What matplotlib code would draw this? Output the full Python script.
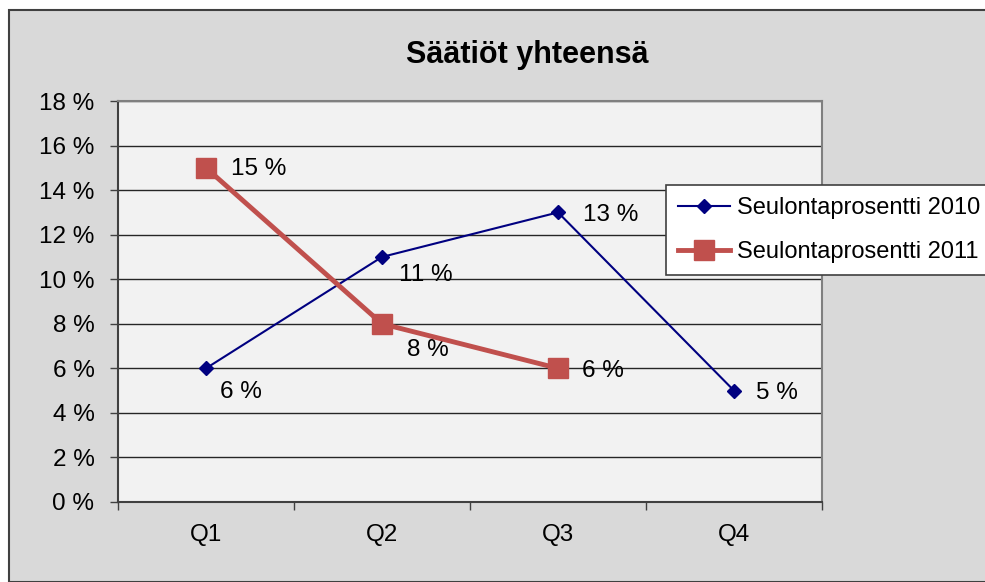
import matplotlib
matplotlib.use("Agg")
import matplotlib.pyplot as plt
from matplotlib.patches import Rectangle
from matplotlib.ticker import FuncFormatter

categories = ["Q1", "Q2", "Q3", "Q4"]
series_2010 = [6, 11, 13, 5]
series_2011 = [15, 8, 6]
label_2010 = "Seulontaprosentti 2010"
label_2011 = "Seulontaprosentti 2011"
title = "Säätiöt yhteensä"

plt.rcParams['font.family'] = ['Liberation Sans', 'DejaVu Sans']

W, H = 985, 582
fig = plt.figure(figsize=(W / 100, H / 100), dpi=100)
fig.patch.set_facecolor("white")

# chart area background with border
bg = Rectangle((9 / W, 0), 1.0, 1 - 10 / H, transform=fig.transFigure,
               facecolor="#d9d9d9", edgecolor="#404040", linewidth=1.5, zorder=-10)
fig.patches.append(bg)

ax = fig.add_axes([118 / W, 1 - 502 / H, (822 - 118) / W, (502 - 101) / H])
ax.set_zorder(1)
ax.set_facecolor("#f2f2f2")

x = list(range(len(categories)))
x11 = list(range(len(series_2011)))

ax.plot(x, series_2010, color="#000080", linewidth=1.5, marker="D", markersize=7,
        label=label_2010, zorder=3)
ax.plot(x11, series_2011, color="#c0504d", linewidth=3.5, marker="s", markersize=14,
        label=label_2011, zorder=4)

fs = 17.5
# data labels
offs_2010 = [(10, -17), (12, -13), (18, -2), (16, -2)]
for xi, v, o in zip(x, series_2010, offs_2010):
    ax.annotate(f"{v} %", (xi, v), xytext=o, textcoords="offset points",
                fontsize=fs, va="center", ha="left", color="black")
offs_2011 = [(18, -1), (18, -19), (17, -2)]
for xi, v, o in zip(x11, series_2011, offs_2011):
    ax.annotate(f"{v} %", (xi, v), xytext=o, textcoords="offset points",
                fontsize=fs, va="center", ha="left", color="black")

ax.set_xlim(-0.5, 3.5)
ax.set_ylim(0, 18)
ax.set_yticks(range(0, 19, 2))
ax.yaxis.set_major_formatter(FuncFormatter(lambda v, p: f"{int(v)} %"))
ax.set_xticks(x)
ax.set_xticklabels(categories)
ax.set_xticks([-0.5, 0.5, 1.5, 2.5, 3.5], minor=True)
ax.tick_params(axis="x", which="major", length=0, pad=16, labelsize=fs)
ax.tick_params(axis="x", which="minor", length=6, width=1, color="#404040", direction="out")
ax.tick_params(axis="y", length=6, width=1, color="#404040", labelsize=fs, pad=11)

ax.grid(axis="y", color="#262626", linewidth=1)
ax.set_axisbelow(True)
for side in ["top", "right"]:
    ax.spines[side].set_color("#808080")
    ax.spines[side].set_linewidth(1.5)
for side in ["left", "bottom"]:
    ax.spines[side].set_color("#404040")
    ax.spines[side].set_linewidth(1.5)

fig.text(527 / W, 1 - 55 / H, title, fontsize=22, fontweight="bold",
         ha="center", va="center")

leg = fig.legend(loc="upper left", bbox_to_anchor=(666 / W, 1 - 185 / H),
                 borderaxespad=0,
                 fontsize=17, frameon=True, fancybox=False, edgecolor="#404040",
                 framealpha=1, facecolor="white", handlelength=2.2,
                 borderpad=0.5, labelspacing=0.95, handletextpad=0.3)
leg.get_frame().set_linewidth(1.2)
leg.set_zorder(5)

fig.savefig("out.png", dpi=100, facecolor=fig.get_facecolor())
